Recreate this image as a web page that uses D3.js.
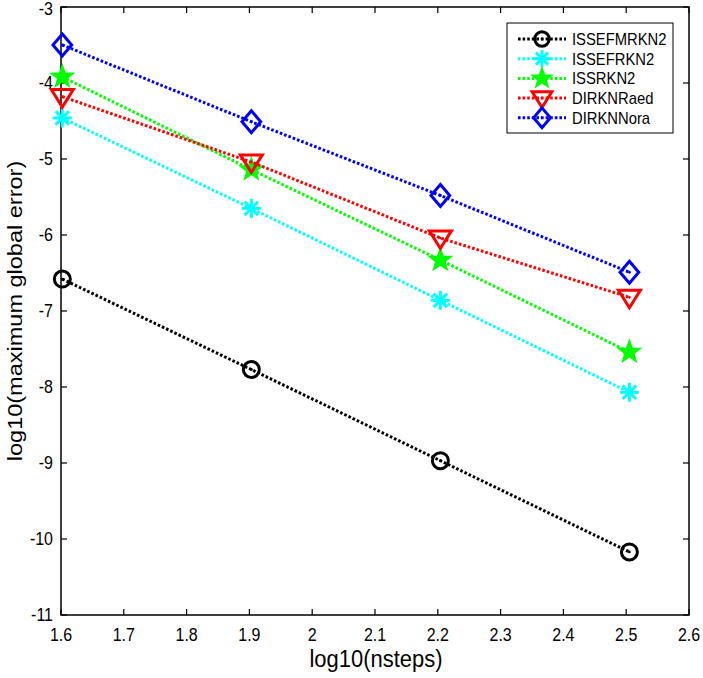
<!DOCTYPE html>
<html><head><meta charset="utf-8">
<script src="https://cdn.jsdelivr.net/npm/d3@7"></script>
<style>body{margin:0;background:#fff}svg{display:block}text{font-family:"Liberation Sans",Arial,sans-serif}</style>
</head><body><svg id="c" width="703" height="678"></svg>
<script>
const xVals = [1.6021, 1.9031, 2.2041, 2.5051];
const seriesNames = ["ISSEFMRKN2", "ISSEFRKN2", "ISSRKN2", "DIRKNRaed", "DIRKNNora"];
const ISSEFMRKN2 = [-6.58, -7.77, -8.97, -10.17];
const ISSEFRKN2 = [-4.46, -5.65, -6.86, -8.07];
const ISSRKN2 = [-3.92, -5.14, -6.33, -7.54];
const DIRKNRaed = [-4.18, -5.04, -6.04, -6.82];
const DIRKNNora = [-3.5, -4.51, -5.48, -6.49];
const xTicks = [1.6, 1.7, 1.8, 1.9, 2, 2.1, 2.2, 2.3, 2.4, 2.5, 2.6];
const yTicks = [-3, -4, -5, -6, -7, -8, -9, -10, -11];

const series = [
  {name: seriesNames[0], values: ISSEFMRKN2, color: "#000000", marker: "circle"},
  {name: seriesNames[1], values: ISSEFRKN2, color: "#00ffff", marker: "asterisk"},
  {name: seriesNames[2], values: ISSRKN2, color: "#00ff00", marker: "star"},
  {name: seriesNames[3], values: DIRKNRaed, color: "#ff0000", marker: "tridown"},
  {name: seriesNames[4], values: DIRKNNora, color: "#0000ff", marker: "diamond"}
];

const L = 61, R = 689, T = 7, B = 615;
const VS = 1.12; // vertical stretch of glyphs in the reference
const x = d3.scaleLinear().domain([1.6, 2.6]).range([L, R]);
const y = d3.scaleLinear().domain([-11, -3]).range([B, T]);
const svg = d3.select("#c");

svg.append("rect").attr("x", L).attr("y", T).attr("width", R - L).attr("height", B - T)
  .attr("fill", "none").attr("stroke", "#000").attr("stroke-width", 1.5);

function htext(g, tx, ty, anchor, size, str) {
  return g.append("text").attr("transform", `translate(${tx},${ty}) scale(1,${VS})`)
    .attr("text-anchor", anchor).attr("font-size", size).text(str);
}

const fmt = d => String(d);
const tl = 6;
const gx = svg.append("g");
xTicks.forEach(t => {
  const px = x(t);
  gx.append("line").attr("x1", px).attr("x2", px).attr("y1", B).attr("y2", B - tl).attr("stroke", "#000").attr("stroke-width", 1.2);
  gx.append("line").attr("x1", px).attr("x2", px).attr("y1", T).attr("y2", T + tl).attr("stroke", "#000").attr("stroke-width", 1.2);
  htext(gx, px, 641, "middle", 16, fmt(t));
});
const gy = svg.append("g");
yTicks.forEach(t => {
  const py = y(t);
  gy.append("line").attr("x1", L).attr("x2", L + tl).attr("y1", py).attr("y2", py).attr("stroke", "#000").attr("stroke-width", 1.2);
  gy.append("line").attr("x1", R).attr("x2", R - tl).attr("y1", py).attr("y2", py).attr("stroke", "#000").attr("stroke-width", 1.2);
  htext(gy, 53, Math.max(py + 6, 15), "end", 16, fmt(t));
});

htext(svg, 376, 667, "middle", 22, "log10(nsteps)");
svg.append("text").attr("transform", `translate(22,311) rotate(-90) scale(${VS},1)`)
  .attr("text-anchor", "middle").attr("font-size", 21).text("log10(maximum global error)");

function drawMarker(g, type, cx, cy, color, s) {
  const sw = 3;
  if (type === "circle") {
    g.append("circle").attr("cx", cx).attr("cy", cy).attr("r", 8 * s).attr("fill", "none").attr("stroke", color).attr("stroke-width", sw);
  } else if (type === "diamond") {
    const r = 11 * s;
    g.append("path").attr("d", `M${cx},${cy - r}L${cx + r * 0.85},${cy}L${cx},${cy + r}L${cx - r * 0.85},${cy}Z`).attr("fill", "none").attr("stroke", color).attr("stroke-width", sw);
  } else if (type === "tridown") {
    const w = 11 * s, h = 9.5 * s;
    g.append("path").attr("d", `M${cx - w},${cy - h * 0.75}L${cx + w},${cy - h * 0.75}L${cx},${cy + h * 1.1}Z`).attr("fill", "none").attr("stroke", color).attr("stroke-width", sw);
  } else if (type === "star") {
    const ro = 11.5 * s, ri = 4.7 * s;
    let p = "";
    for (let i = 0; i < 10; i++) {
      const a = -Math.PI / 2 + i * Math.PI / 5;
      const r = i % 2 ? ri : ro;
      p += (i ? "L" : "M") + (cx + r * Math.cos(a)) + "," + (cy + r * Math.sin(a));
    }
    g.append("path").attr("d", p + "Z").attr("fill", color).attr("stroke", color).attr("stroke-width", 1.5);
  } else if (type === "asterisk") {
    const r = 9.5 * s;
    for (let i = 0; i < 4; i++) {
      const a = i * Math.PI / 4;
      g.append("line").attr("x1", cx - r * Math.cos(a)).attr("y1", cy - r * Math.sin(a))
        .attr("x2", cx + r * Math.cos(a)).attr("y2", cy + r * Math.sin(a))
        .attr("stroke", color).attr("stroke-width", sw);
    }
  }
  if (type !== "star" && type !== "asterisk") {
    g.append("circle").attr("cx", cx).attr("cy", cy).attr("r", 1.4).attr("fill", color);
  }
}

const line = d3.line().x(d => x(d[0])).y(d => y(d[1]));
const dash = "2.6,2";
series.forEach(s => {
  const g = svg.append("g");
  const pts = xVals.map((xv, i) => [xv, s.values[i]]);
  g.append("path").attr("d", line(pts)).attr("fill", "none").attr("stroke", s.color).attr("stroke-width", 3).attr("stroke-dasharray", dash);
  pts.forEach(p => drawMarker(g, s.marker, x(p[0]), y(p[1]), s.color, 1));
});

const lg = svg.append("g");
lg.append("rect").attr("x", 507).attr("y", 23).attr("width", 166).attr("height", 110).attr("fill", "#fff").attr("stroke", "#000").attr("stroke-width", 1);
series.forEach((s, i) => {
  const ly = 39 + i * 19.7;
  lg.append("line").attr("x1", 518).attr("x2", 566).attr("y1", ly).attr("y2", ly).attr("stroke", s.color).attr("stroke-width", 3).attr("stroke-dasharray", dash);
  drawMarker(lg, s.marker, 542, ly, s.color, 0.9);
  htext(lg, 572, ly + 6, "start", 14.8, s.name);
});
</script></body></html>
